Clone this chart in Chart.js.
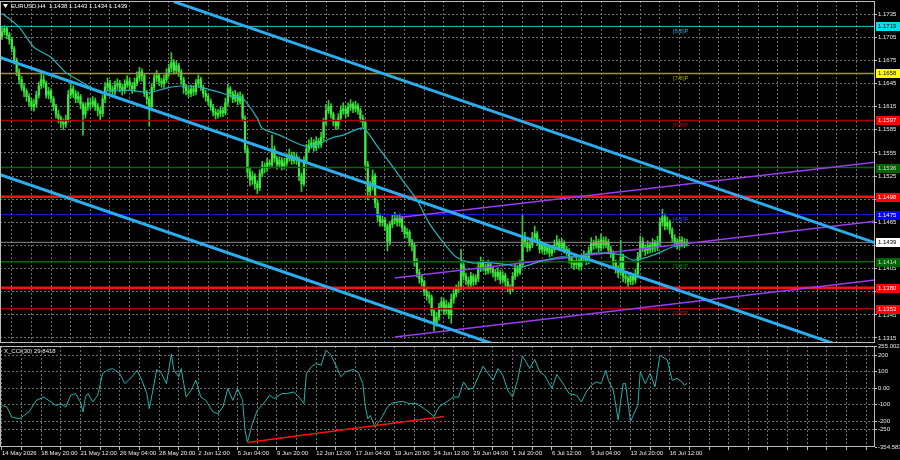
<!DOCTYPE html>
<html lang="en">
<head>
<meta charset="UTF-8">
<title>EURUSD H4</title>
<script src="https://cdn.jsdelivr.net/npm/chart.js"></script>
<style>
  html, body { margin: 0; padding: 0; background: #000; }
  #wrap { position: relative; width: 900px; height: 460px; background: #000; overflow: hidden; }
  #price { position: absolute; left: 0; top: 0; }
  #cci { position: absolute; left: 0; top: 344px; }
</style>
</head>
<body>
<div id="wrap">
  <canvas id="price" width="900" height="345"></canvas>
  <canvas id="cci" width="900" height="116"></canvas>
</div>
<script>
// prices are in pips: 1712 -> 1.1712
const firstOpen = 1706;
const closes = [
  1712,1716,1708,1702,1690,1675,1660,1650,1640,1635,1628,1622,1615,1618,1630,1642,1650,1645,1630,1635,
  1625,1615,1605,1600,1595,1592,1598,1630,1638,1632,1625,1628,1618,1605,1615,1620,1618,1622,1615,1610,
  1606,1625,1640,1645,1638,1635,1642,1645,1640,1636,1644,1648,1642,1638,1646,1652,1660,1655,1632,1625,
  1615,1640,1652,1655,1648,1645,1650,1658,1665,1672,1662,1668,1660,1650,1640,1636,1632,1638,1634,1645,
  1650,1640,1632,1628,1622,1615,1608,1604,1606,1610,1607,1620,1638,1632,1625,1630,1622,1628,1600,1560,
  1530,1520,1525,1515,1510,1528,1538,1535,1542,1540,1560,1548,1540,1545,1538,1542,1548,1552,1545,1550,
  1547,1525,1515,1545,1560,1565,1568,1562,1570,1566,1575,1595,1610,1615,1605,1595,1590,1600,1610,1612,
  1606,1614,1618,1612,1616,1610,1600,1595,1540,1505,1512,1525,1490,1472,1465,1468,1460,1440,1462,1468,
  1470,1465,1470,1458,1450,1452,1440,1435,1415,1400,1392,1388,1375,1370,1368,1350,1335,1342,1355,1362,
  1350,1358,1345,1365,1372,1378,1382,1410,1395,1390,1385,1395,1388,1392,1405,1412,1408,1402,1410,1404,
  1400,1395,1400,1390,1396,1388,1380,1378,1395,1405,1400,1410,1445,1438,1432,1436,1445,1450,1440,1430,
  1435,1428,1432,1425,1430,1436,1440,1432,1438,1430,1428,1418,1412,1410,1415,1408,1418,1422,1415,1428,
  1438,1435,1440,1432,1442,1436,1440,1430,1425,1412,1405,1400,1420,1395,1392,1388,1395,1390,1398,1420,
  1440,1432,1428,1435,1430,1438,1432,1440,1465,1472,1460,1465,1455,1445,1440,1435,1442,1438,1438,1439
];
const highs = [
  1719,1720,1718,1711,1705,1693,1678,1664,1654,1645,1638,1632,1626,1624,1635,1647,1658,1656,1648,1640,
  1638,1628,1618,1610,1603,1599,1604,1636,1645,1642,1636,1634,1631,1621,1620,1626,1625,1628,1626,1619,
  1614,1630,1646,1652,1649,1642,1648,1651,1649,1644,1650,1655,1652,1646,1652,1660,1666,1664,1658,1636,
  1628,1645,1658,1662,1658,1652,1656,1664,1670,1685,1676,1674,1671,1663,1653,1644,1640,1643,1642,1650,
  1656,1653,1643,1636,1631,1625,1618,1612,1611,1615,1614,1626,1644,1641,1635,1636,1633,1634,1631,1603,
  1564,1535,1531,1528,1519,1533,1544,1542,1548,1546,1578,1564,1551,1550,1549,1548,1554,1560,1556,1556,
  1554,1550,1529,1550,1566,1572,1575,1572,1576,1574,1582,1600,1618,1623,1619,1608,1598,1606,1616,1620,
  1616,1620,1624,1621,1622,1619,1613,1604,1598,1544,1518,1533,1528,1494,1476,1473,1471,1463,1466,1474,
  1478,1475,1476,1473,1461,1457,1455,1443,1438,1418,1404,1396,1390,1379,1374,1371,1353,1348,1360,1368,
  1366,1364,1361,1372,1378,1384,1388,1430,1414,1399,1394,1400,1398,1397,1412,1420,1416,1411,1416,1413,
  1408,1404,1406,1403,1401,1399,1392,1384,1400,1411,1409,1416,1474,1452,1442,1441,1452,1460,1453,1443,
  1440,1438,1437,1435,1435,1442,1448,1443,1444,1441,1434,1431,1421,1416,1420,1418,1423,1428,1425,1433,
  1445,1442,1447,1443,1450,1446,1446,1443,1434,1428,1416,1409,1442,1424,1399,1396,1400,1398,1404,1426,
  1447,1445,1436,1441,1439,1444,1442,1447,1470,1482,1476,1472,1468,1458,1449,1444,1447,1446,1444,1443
];
const lows = [
  1702,1708,1703,1696,1686,1670,1655,1644,1636,1628,1622,1616,1610,1609,1614,1626,1638,1640,1626,1625,
  1620,1610,1600,1594,1588,1585,1588,1595,1626,1627,1620,1620,1612,1578,1600,1610,1612,1614,1610,1603,
  1598,1602,1620,1636,1633,1628,1630,1638,1634,1630,1632,1640,1637,1632,1634,1642,1648,1648,1628,1618,
  1590,1610,1636,1647,1642,1640,1640,1646,1654,1660,1657,1658,1654,1644,1632,1630,1627,1628,1629,1630,
  1641,1636,1627,1622,1617,1610,1603,1599,1600,1602,1602,1604,1616,1627,1620,1621,1617,1618,1596,1555,
  1524,1512,1514,1508,1502,1506,1524,1529,1531,1535,1536,1543,1534,1536,1533,1534,1538,1544,1540,1541,
  1540,1519,1505,1512,1541,1556,1561,1557,1558,1561,1562,1571,1591,1606,1600,1590,1585,1586,1596,1605,
  1601,1602,1610,1607,1608,1605,1595,1588,1534,1494,1498,1507,1484,1466,1460,1460,1454,1428,1436,1458,
  1463,1460,1460,1453,1444,1445,1434,1428,1408,1394,1386,1382,1370,1364,1360,1344,1324,1330,1338,1350,
  1345,1346,1340,1334,1360,1368,1374,1378,1390,1384,1380,1381,1383,1384,1388,1401,1402,1397,1398,1399,
  1394,1389,1391,1385,1386,1382,1375,1372,1375,1391,1395,1397,1406,1433,1427,1428,1432,1441,1435,1425,
  1426,1423,1424,1420,1421,1426,1432,1428,1429,1425,1422,1412,1406,1404,1405,1403,1404,1414,1410,1411,
  1424,1430,1431,1427,1428,1431,1432,1424,1419,1407,1399,1393,1396,1388,1386,1382,1384,1384,1386,1394,
  1416,1427,1422,1424,1425,1426,1427,1428,1436,1460,1455,1456,1450,1440,1435,1430,1431,1433,1432,1434
];

// moving average read at a few bars
const maBars = [0,7,13,20,26,33,40,44,53,60,67,74,81,88,93,98,104,106,113,123,128,134,139,147,153,158,163,169,174,180,185,192,196,206,211,219,227,233,241,252,257,263,268,273,279];
const maVals = [1736,1718,1692,1679,1659,1646,1633,1636,1636,1633,1639,1642,1640,1634,1629,1626,1600,1587,1578,1564,1565,1574,1578,1587,1563,1542,1520,1494,1464,1438,1420,1412,1413,1410,1407,1414,1420,1420,1425,1423,1416,1420,1426,1433,1436];

// trend channels (bar, pips)
const channelTop = [{x: 70, y: 1751}, {x: 356, y: 1438}];
const channelMid = [{x: -1, y: 1679}, {x: 356, y: 1289}];
const channelLow = [{x: -1, y: 1527}, {x: 356, y: 1137}];
const purpleTop = [{x: 160, y: 1470.5}, {x: 356, y: 1543}];
const purpleMid = [{x: 160, y: 1392.7}, {x: 356, y: 1466.6}];
const purpleLow = [{x: 160, y: 1316.3}, {x: 356, y: 1390.2}];

// horizontal levels
const levelVals = [1719, 1658, 1597, 1536, 1498, 1475, 1414, 1380, 1353];
const levelTags = ['[8/8]P', '[7/8]P', '[6/8]P', '', '', '[4/8]P', '[3/8]P', '', '[2/8]P'];

const priceTicks = [1315,1345,1375,1405,1435,1465,1495,1525,1555,1585,1615,1645,1675,1705,1735];

// CCI read at a few bars
const cciBars = [0,2,4,7,9,11,14,17,20,22,24,26,28,30,32,33,34,35,37,39,
  41,43,45,48,50,53,55,57,59,60,62,63,65,67,69,70,72,73,75,77,
  79,81,83,86,88,90,92,94,96,98,99,100,102,104,106,109,111,114,116,119,
  121,123,124,126,128,130,132,134,136,138,140,143,145,147,148,149,150,152,154,157,
  159,163,166,169,172,176,178,181,184,186,188,190,192,194,196,198,200,202,204,206,
  208,210,212,213,215,217,219,221,224,226,229,231,234,236,238,240,242,244,246,247,
  249,251,253,254,256,259,260,262,264,266,268,271,273,275,277,278,279];
const cciVals = [-103,-113,-174,-184,-164,-143,-73,-53,-83,-103,-93,-113,-42,-32,-83,-143,-53,-32,-83,-42,
  89,109,119,89,28,69,109,48,-32,-123,28,113,89,28,206,109,69,119,-53,-12,
  48,-53,-73,-143,-154,-113,-2,-73,-2,-73,-255,-325,-214,-133,-103,-42,-63,-32,-32,-22,
  -53,-93,89,129,149,139,230,200,139,69,99,113,99,28,-113,-184,-164,-234,-194,-113,
  -89,-79,-93,-93,-123,-170,-113,-83,-53,-53,38,-8,2,69,133,89,48,119,79,-12,
  -53,48,194,170,119,174,99,79,-2,83,18,-32,-42,-83,-22,18,38,28,109,48,
  -12,-190,28,28,-200,-103,99,28,89,8,200,170,48,59,38,18,30];
const cciDivergence = [{x: 100, y: -327}, {x: 180, y: -170}];
const cciTicks = [-354.583, -250, -200, -100, 0, 100, 200, 255.0021];
const cciTickLabels = ['-354.583', '-250', '-200', '-100', '0.00', '100', '200', '255.0021'];

const dateLabels = ['14 May 2026', '18 May 20:00', '21 May 12:00', '26 May 04:00', '28 May 20:00', '2 Jun 12:00',
  '5 Jun 04:00', '9 Jun 20:00', '12 Jun 12:00', '17 Jun 04:00', '19 Jun 20:00', '24 Jun 12:00',
  '29 Jun 04:00', '1 Jul 20:00', '6 Jul 12:00', '9 Jul 04:00', '13 Jul 20:00', '16 Jul 12:00'];

// ---- styles ----
const FONT = "'Liberation Sans', Arial, sans-serif";
Chart.defaults.font.family = FONT;
Chart.defaults.color = '#e6e6e6';
const gridCol = '#6e6e6e';
const wickCol = '#2fd02f';
const bodyCol = '#3ee83e';
const levelColors = ['#1cc4d4', '#9c9c00', '#a80000', '#006a00', '#ff1010', '#1020d8', '#006a00', '#ff1010', '#a80000'];
const levelWidths = [1, 1.5, 1.5, 1.5, 2.5, 1, 1.5, 2.5, 1.5];
const boxBg = ['#00e0f0', '#ffff00', '#ff0000', '#006400', '#ff0000', '#0000ff', '#006400', '#ff0000', '#ff0000'];
const boxText = ['#000', '#000', '#fff', '#ddd', '#fff', '#fff', '#ddd', '#fff', '#fff'];
const tagColors = ['#20a8b8', '#a0a000', '#c80000', '#006a00', '#ff2020', '#2040ff', '#007800', '#ff2020', '#d00000'];
const tagBar = 273.3;

const xMin = -0.8, xMax = 355.6;
const gridBars = [];
for (let b = 0; b <= 352; b += 8) gridBars.push(b);

const opens = closes.map((c, i) => i === 0 ? firstOpen : closes[i - 1]);
const lastClose = closes[closes.length - 1];
const fmt = v => (1 + v / 10000).toFixed(4);

function lineSet(data, color, width, order, tension) {
  return { type: 'line', data, borderColor: color, borderWidth: width, pointRadius: 0, order, tension: tension || 0, fill: false };
}

const levelSets = levelVals.map((v, k) =>
  lineSet([{x: xMin, y: v}, {x: xMax, y: v}], levelColors[k], levelWidths[k], 4));

const pricePlugin = {
  id: 'priceDeco',
  afterDraw(chart) {
    const {ctx, chartArea: a, scales: {x, y}} = chart;
    ctx.save();
    ctx.strokeStyle = '#bcbcbc';
    ctx.lineWidth = 1;
    ctx.strokeRect(a.left + 0.5, a.top + 0.5, a.right - a.left - 1, a.bottom - a.top - 1);

    ctx.font = '6px ' + FONT;
    ctx.textAlign = 'left';
    ctx.textBaseline = 'top';
    levelVals.forEach((v, k) => {
      if (!levelTags[k]) return;
      ctx.fillStyle = tagColors[k];
      ctx.fillText(levelTags[k], x.getPixelForValue(tagBar), y.getPixelForValue(v) + 1.5);
    });

    // price boxes on the right axis
    ctx.textBaseline = 'middle';
    const boxes = levelVals.map((v, k) => [v, boxBg[k], boxText[k]]);
    boxes.push([lastClose, '#ffffff', '#000']);
    boxes.forEach(([v, bg, fg]) => {
      const py = Math.round(y.getPixelForValue(v));
      ctx.fillStyle = bg;
      ctx.fillRect(a.right + 1, py - 4, 900 - a.right - 1, 9);
      ctx.fillStyle = fg;
      ctx.fillText(fmt(v), a.right + 3, py + 0.5);
    });

    // title
    ctx.fillStyle = '#fff';
    ctx.beginPath();
    ctx.moveTo(3, 4); ctx.lineTo(8, 4); ctx.lineTo(5.5, 8); ctx.closePath();
    ctx.fill();
    ctx.font = '6px ' + FONT;
    ctx.fillText('EURUSD,H4  ' + [1438, 1443, 1434, lastClose].map(fmt).join(' '), 11, 6.5);
    ctx.restore();
  }
};

new Chart(document.getElementById('price'), {
  type: 'bar',
  data: {
    datasets: [
      { type: 'bar', data: closes.map((c, i) => ({x: i, y: [lows[i], highs[i]]})), backgroundColor: wickCol, barThickness: 1, grouped: false, order: 6 },
      { type: 'bar', data: closes.map((c, i) => ({x: i, y: [opens[i], c]})), backgroundColor: bodyCol, barThickness: 1.6, minBarLength: 1, grouped: false, order: 5 },
      ...levelSets,
      lineSet([{x: xMin, y: lastClose}, {x: xMax, y: lastClose}], '#8a8a8a', 1, 4),
      lineSet(channelTop, '#2aaef0', 3, 2),
      lineSet(channelMid, '#2aaef0', 3, 2),
      lineSet(channelLow, '#2aaef0', 3, 2),
      lineSet(purpleTop, '#9a3cf0', 1.5, 2),
      lineSet(purpleMid, '#9a3cf0', 1.5, 2),
      lineSet(purpleLow, '#9a3cf0', 1.5, 2),
      lineSet(maBars.map((b, k) => ({x: b, y: maVals[k]})), '#26b4b8', 1.2, 1, 0.25)
    ]
  },
  options: {
    responsive: false,
    animation: false,
    layout: { padding: { top: 1, bottom: 2, left: 0, right: 0 } },
    plugins: { legend: { display: false }, tooltip: { enabled: false } },
    scales: {
      x: {
        type: 'linear', min: xMin, max: xMax, offset: false,
        afterBuildTicks: s => { s.ticks = gridBars.map(v => ({value: v})); },
        afterFit: s => { s.height = 0; s.paddingLeft = 0; s.paddingRight = 0; },
        ticks: { display: false },
        grid: { color: gridCol, drawTicks: false },
        border: { display: false, dash: [2, 2] }
      },
      y: {
        position: 'right', min: 1308.5, max: 1751.9,
        afterBuildTicks: s => { s.ticks = priceTicks.map(v => ({value: v})); },
        afterFit: s => { s.width = 25; s.paddingTop = 0; s.paddingBottom = 0; },
        ticks: { color: '#e8e8e8', font: { size: 6 }, padding: 1, callback: v => fmt(v) },
        grid: { color: gridCol, tickLength: 2, tickColor: '#bcbcbc' },
        border: { display: false, dash: [2, 2] }
      }
    }
  },
  plugins: [pricePlugin]
});

const cciPlugin = {
  id: 'cciDeco',
  afterDraw(chart) {
    const {ctx, chartArea: a} = chart;
    ctx.save();
    ctx.strokeStyle = '#bcbcbc';
    ctx.lineWidth = 1;
    ctx.strokeRect(a.left + 0.5, a.top + 0.5, a.right - a.left - 1, a.bottom - a.top - 1);
    ctx.fillStyle = '#e8e8e8';
    ctx.font = '6px ' + FONT;
    ctx.textBaseline = 'top';
    ctx.fillText('X_CCI(30) 29.8418', 4, a.top + 2);
    ctx.restore();
  }
};

new Chart(document.getElementById('cci'), {
  type: 'line',
  data: {
    datasets: [
      lineSet(cciBars.map((b, k) => ({x: b, y: cciVals[k]})), '#20b2aa', 1, 2),
      lineSet(cciDivergence, '#ff1010', 1.5, 1)
    ]
  },
  options: {
    responsive: false,
    animation: false,
    layout: { padding: { top: 2, bottom: 0, left: 0, right: 0 } },
    plugins: { legend: { display: false }, tooltip: { enabled: false } },
    scales: {
      x: {
        type: 'linear', min: xMin, max: xMax, offset: false,
        afterBuildTicks: s => { s.ticks = gridBars.map(v => ({value: v})); },
        afterFit: s => { s.height = 13; s.paddingLeft = 0; s.paddingRight = 0; },
        ticks: {
          autoSkip: false, maxRotation: 0, align: 'start', padding: 0,
          color: '#e8e8e8', font: { size: 6 },
          callback: v => (v % 16 === 0 && v / 16 < dateLabels.length) ? dateLabels[v / 16] : ''
        },
        grid: { color: gridCol, tickLength: 3, tickColor: '#bcbcbc' },
        border: { display: false, dash: [2, 2] }
      },
      y: {
        position: 'right', min: -354.583, max: 255.0021,
        afterBuildTicks: s => { s.ticks = cciTicks.map(v => ({value: v})); },
        afterFit: s => { s.width = 25; s.paddingTop = 0; s.paddingBottom = 0; },
        ticks: { color: '#e8e8e8', font: { size: 6 }, padding: 1, callback: (v, i) => cciTickLabels[i] },
        grid: { color: c => (c.index === 0 || c.index === cciTicks.length - 1) ? 'rgba(0,0,0,0)' : gridCol, tickLength: 2, tickColor: '#bcbcbc' },
        border: { display: false, dash: [2, 2] }
      }
    }
  },
  plugins: [cciPlugin]
});
</script>
</body>
</html>
